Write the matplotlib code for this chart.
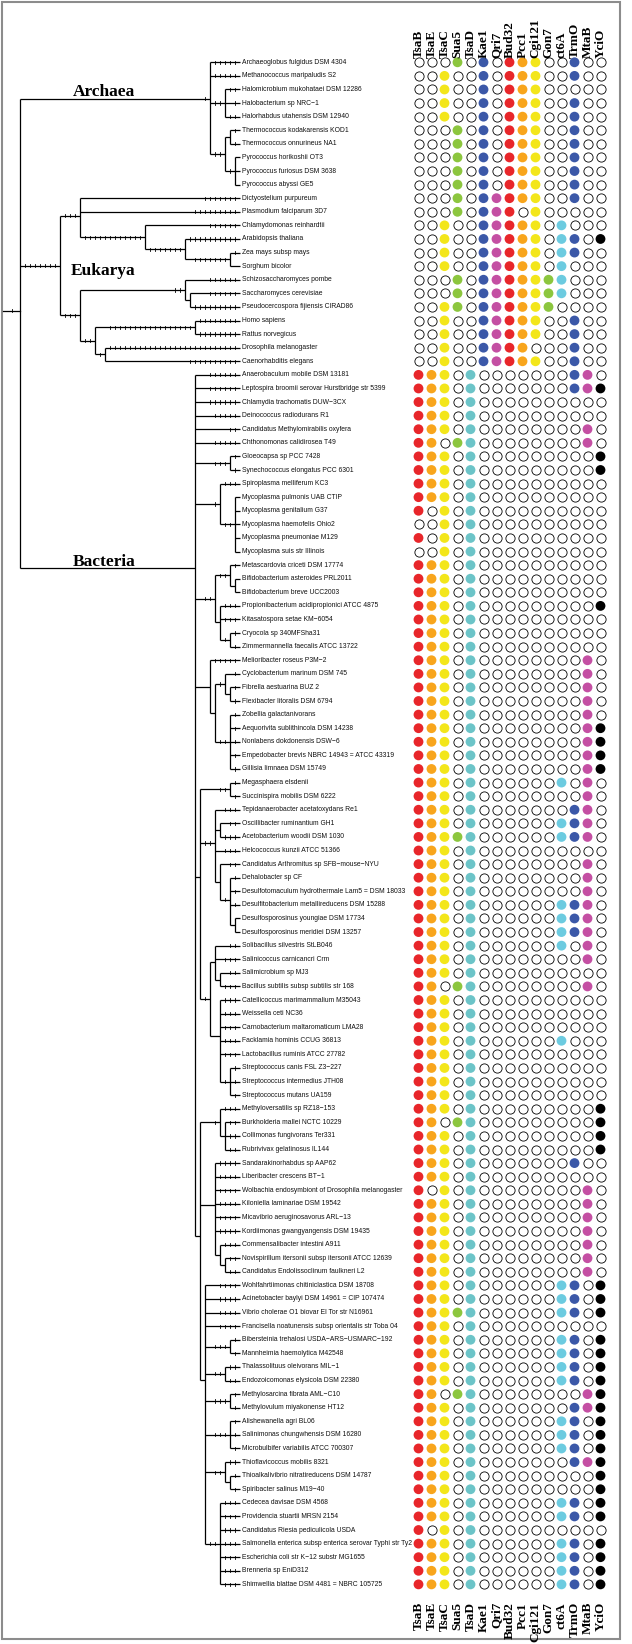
import matplotlib.pyplot as plt
from matplotlib.patches import Rectangle

genes = ['TsaB', 'TsaE', 'TsaC', 'Sua5', 'TsaD', 'Kae1', 'Qri7', 'Bud32',
         'Pcc1', 'Cgi121', 'Gon7', 'ct6A', 'TrmO', 'MtaB', 'YciO']
gene_colors = ['#e8262a', '#f8a51c', '#f3e61a', '#8cc63e', '#6cc4c8', '#3b58a8',
               '#c44fa3', '#e8262a', '#f8a51c', '#f3e61a', '#8cc63e', '#6ccbe0',
               '#3b58a8', '#c44fa3', '#000000']

species = [
    'Archaeoglobus fulgidus DSM 4304', 'Methanococcus maripaludis S2',
    'Halomicrobium mukohataei DSM 12286', 'Halobacterium sp NRC\u22121',
    'Halorhabdus utahensis DSM 12940', 'Thermococcus kodakarensis KOD1',
    'Thermococcus onnurineus NA1', 'Pyrococcus horikoshii OT3',
    'Pyrococcus furiosus DSM 3638', 'Pyrococcus abyssi GE5',
    'Dictyostelium purpureum', 'Plasmodium falciparum 3D7',
    'Chlamydomonas reinhardtii', 'Arabidopsis thaliana', 'Zea mays subsp mays',
    'Sorghum bicolor', 'Schizosaccharomyces pombe', 'Saccharomyces cerevisiae',
    'Pseudocercospora fijiensis CIRAD86', 'Homo sapiens', 'Rattus norvegicus',
    'Drosophila melanogaster', 'Caenorhabditis elegans',
    'Anaerobaculum mobile DSM 13181',
    'Leptospira broomii serovar Hurstbridge str 5399',
    'Chlamydia trachomatis DUW\u22123CX', 'Deinococcus radiodurans R1',
    'Candidatus Methylomirabilis oxyfera', 'Chthonomonas calidirosea T49',
    'Gloeocapsa sp PCC 7428', 'Synechococcus elongatus PCC 6301',
    'Spiroplasma melliferum KC3', 'Mycoplasma pulmonis UAB CTIP',
    'Mycoplasma genitalium G37', 'Mycoplasma haemofelis Ohio2',
    'Mycoplasma pneumoniae M129', 'Mycoplasma suis str Illinois',
    'Metascardovia criceti DSM 17774', 'Bifidobacterium asteroides PRL2011',
    'Bifidobacterium breve UCC2003', 'Propionibacterium acidipropionici ATCC 4875',
    'Kitasatospora setae KM\u22126054', 'Cryocola sp 340MFSha31',
    'Zimmermannella faecalis ATCC 13722', 'Melioribacter roseus P3M\u22122',
    'Cyclobacterium marinum DSM 745', 'Fibrella aestuarina BUZ 2',
    'Flexibacter litoralis DSM 6794', 'Zobellia galactanivorans',
    'Aequorivita sublithincola DSM 14238', 'Nonlabens dokdonensis DSW\u22126',
    'Empedobacter brevis NBRC 14943 = ATCC 43319', 'Gillisia limnaea DSM 15749',
    'Megasphaera elsdenii', 'Succinispira mobilis DSM 6222',
    'Tepidanaerobacter acetatoxydans Re1', 'Oscillibacter ruminantium GH1',
    'Acetobacterium woodii DSM 1030', 'Helcococcus kunzii ATCC 51366',
    'Candidatus Arthromitus sp SFB\u2212mouse\u2212NYU', 'Dehalobacter sp CF',
    'Desulfotomaculum hydrothermale Lam5 = DSM 18033',
    'Desulfitobacterium metallireducens DSM 15288',
    'Desulfosporosinus youngiae DSM 17734', 'Desulfosporosinus meridiei DSM 13257',
    'Solibacillus silvestris StLB046', 'Salinicoccus carnicancri Crm',
    'Salimicrobium sp MJ3', 'Bacillus subtilis subsp subtilis str 168',
    'Catellicoccus marimammalium M35043', 'Weissella ceti NC36',
    'Carnobacterium maltaromaticum LMA28', 'Facklamia hominis CCUG 36813',
    'Lactobacillus ruminis ATCC 27782', 'Streptococcus canis FSL Z3\u2212227',
    'Streptococcus intermedius JTH08', 'Streptococcus mutans UA159',
    'Methyloversatilis sp RZ18\u2212153', 'Burkholderia mallei NCTC 10229',
    'Collimonas fungivorans Ter331', 'Rubrivivax gelatinosus IL144',
    'Sandarakinorhabdus sp AAP62', 'Liberibacter crescens BT\u22121',
    'Wolbachia endosymbiont of Drosophila melanogaster',
    'Kiloniella laminariae DSM 19542', 'Micavibrio aeruginosavorus ARL\u221213',
    'Kordiimonas gwangyangensis DSM 19435', 'Commensalibacter intestini A911',
    'Novispirillum itersonii subsp itersonii ATCC 12639',
    'Candidatus Endolissoclinum faulkneri L2',
    'Wohlfahrtiimonas chitiniclastica DSM 18708',
    'Acinetobacter baylyi DSM 14961 = CIP 107474',
    'Vibrio cholerae O1 biovar El Tor str N16961',
    'Francisella noatunensis subsp orientalis str Toba 04',
    'Bibersteinia trehalosi USDA\u2212ARS\u2212USMARC\u2212192',
    'Mannheimia haemolytica M42548', 'Thalassolituus oleivorans MIL\u22121',
    'Endozoicomonas elysicola DSM 22380', 'Methylosarcina fibrata AML\u2212C10',
    'Methylovulum miyakonense HT12', 'Alishewanella agri BL06',
    'Salinimonas chungwhensis DSM 16280', 'Microbulbifer variabilis ATCC 700307',
    'Thioflavicoccus mobilis 8321', 'Thioalkalivibrio nitratireducens DSM 14787',
    'Spiribacter salinus M19\u221240', 'Cedecea davisae DSM 4568',
    'Providencia stuartii MRSN 2154', 'Candidatus Riesia pediculicola USDA',
    'Salmonella enterica subsp enterica serovar Typhi str Ty2',
    'Escherichia coli str K\u221212 substr MG1655', 'Brenneria sp EniD312',
    'Shimwellia blattae DSM 4481 = NBRC 105725',
]

# presence (1) / absence (0) of each gene, same order as genes
presence = [
    '000101011100100', '001001011100100', '001001011100000', '001001011100100',
    '001001011100100', '000101011100100', '000101011100100', '000101011100100',
    '000101011100100', '000101011100100',
    '000101111100100', '000101110100000', '001001111101000', '001001111101101',
    '001001111101100', '001001111101000', '000101111111000', '000101111111000',
    '001101111110000', '001001111100100', '001001111100100', '001001111000100',
    '001001111100100',
    '111010000000110', '111010000000111', '111010000000000', '111010000000000',
    '111010000000010', '110110000000010', '111010000000001', '111010000000001',
    '111010000000000', '111010000000000', '101010000000000', '001010000000000',
    '101010000000000', '001010000000000', '111010000000000', '111010000000000',
    '111010000000000', '111010000000001', '111010000000000', '111010000000000',
    '111010000000000', '111010000000010', '111010000000010', '111010000000010',
    '111010000000010', '111010000000010', '111010000000011', '111010000000011',
    '111010000000011', '111010000000011', '111010000001010', '111010000000010',
    '111010000000110', '111010000001110', '111110000001110', '111010000000000',
    '111010000000010', '111010000000010', '111010000000010', '111010000001110',
    '111010000001110', '111010000001110', '111010000001010', '111010000000010',
    '111010000000000', '110110000000010', '111010000000000', '111010000000000',
    '111010000000000', '111010000001000', '111010000000000', '111010000000000',
    '111010000000000', '111010000000000', '111010000000001', '110110000000001',
    '111010000000001', '111010000000001', '111010000000100', '111010000000000',
    '101010000000010', '111010000000010', '111010000000010', '111010000000010',
    '111010000000010', '111010000000010', '111010000000010', '111010000001101',
    '111010000001101', '111110000001101', '111010000000000', '111010000001101',
    '111010000001101', '111010000001101', '111010000001101', '110110000000011',
    '111010000000111', '111010000001101', '111010000001101', '111010000001101',
    '111010000000111', '111010000000001', '111010000000001', '111010000001101',
    '111010000001101', '101010000000000', '111010000001101', '111010000001101',
    '111010000001101', '111010000001101',
]

# taxonomy tree: tip = row index, ":n" = number of single-child ranks above a node
tree = (
    "((0:5,1:5,(2:2,3:1,4:2):2,((5:1,6:1):0,(7:0,8:0,9:0):1):2)Archaea:1,"
    "((10:7,11:9,(12:6,(13:10,(14:1,15:0):7):7):12):3,"
    "((16:6,(17:6,18:9):0):2,((19:8,20:8):17,(21:26,22:10):1):2):3)Eukarya:7,"
    "(23:6,24:6,25:6,26:5,27:2,28:5,(29:1,30:1):3,(31:3,(32:0,33:0,34:0,35:0,36:0):2):1,"
    "((37:1,(38:0,39:0):0):2,(40:3,41:3,(42:1,43:1):1):0):2,"
    "(44:5,((45:1,(46:1,47:1):0):1,(48:1,49:1,50:1,51:1,52:1):2):0):0,"
    "((53:1,54:1):2,(55:3,(56:2,57:3):0,58:3,(59:2,(60:1,61:1,62:1,(63:0,64:0):0):1):0):2,"
    "((65:2,66:3,(67:2,68:3):0):0,(69:3,70:3,71:3,72:3,73:3,(74:1,75:1,76:1):1):0):1):0,"
    "((77:3,(78:2,79:2,80:2):0):1,(81:4,82:4,83:4,84:4,85:4,86:4,(87:3,(88:2,89:2):0):0):0,"
    "(90:4,91:4,92:4,93:4,(94:1,95:1):3,(96:2,97:2):2,(98:1,99:1):3,(100:1,101:1,102:1):3,"
    "(103:2,(104:1,105:1):0):2,(106:3,107:3,108:3,109:3,110:3,111:3,112:3):2):0):0)Bacteria:0)"
)
# where each domain name sits relative to its branch (pixels, baseline)
label_shift = {'Archaea': -2.5, 'Eukarya': 9.5, 'Bacteria': -2.5}


def parse(s):
    pos = 0

    def node():
        nonlocal pos
        kids = None
        if s[pos] == '(':
            pos += 1
            kids = [node()]
            while s[pos] == ',':
                pos += 1
                kids.append(node())
            pos += 1
        start = pos
        while pos < len(s) and s[pos] not in ':,)':
            pos += 1
        label = s[start:pos]
        ns = 0
        if pos < len(s) and s[pos] == ':':
            pos += 1
            start = pos
            while pos < len(s) and s[pos] not in ',)':
                pos += 1
            ns = int(s[start:pos])
        return {'kids': kids, 'label': label, 'ns': ns}
    return node()


# layout (pixel units)
row0, row_h = 62.3, 13.59
x_tip, unit = 240.0, 5.0
col0, col_w = 418.5, 13.0


def row_y(i):
    return row0 + row_h * i


def layout(n):
    if n['kids'] is None:
        n['d'] = 0
        n['y'] = row_y(int(n['label']))
    else:
        for k in n['kids']:
            layout(k)
        n['d'] = 1 + max(k['d'] + k['ns'] for k in n['kids'])
        n['y'] = sum(k['y'] for k in n['kids']) / len(n['kids'])
    n['x'] = x_tip - unit * n['d']


root = parse(tree)
layout(root)

fig = plt.figure(figsize=(6.32, 16.44), dpi=100)
ax = fig.add_axes([0, 0, 1, 1])
ax.set_xlim(0, 632)
ax.set_ylim(1644, 0)
ax.axis('off')

lw = 0.9
clade_labels = {}


def tick(x, y):
    ax.plot([x, x], [y - 1.6, y + 1.6], color='black', lw=0.6)


def draw(n):
    if n['kids'] is None:
        return
    ys = [k['y'] for k in n['kids']]
    ax.plot([n['x'], n['x']], [min(ys), max(ys)], color='black', lw=lw,
            solid_capstyle='butt')
    for k in n['kids']:
        ax.plot([n['x'], k['x']], [k['y'], k['y']], color='black', lw=lw,
                solid_capstyle='butt')
        for j in range(1, k['ns'] + 1):
            tick(x_tip - unit * (k['d'] + j), k['y'])
        if k['kids'] is not None and k['label']:
            clade_labels[k['label']] = k['y']
        draw(k)


draw(root)
ax.plot([3, root['x']], [root['y'], root['y']], color='black', lw=lw)
tick(root['x'] - 8, root['y'])

for name, yy in clade_labels.items():
    ax.text(135, yy + label_shift[name], name, ha='right', va='baseline',
            fontsize=12.5, fontweight='bold', family='Liberation Serif')

for i, name in enumerate(species):
    ax.text(x_tip + 2, row_y(i), name, ha='left', va='center', fontsize=4.85,
            family='Liberation Sans', color='#111111')

# presence matrix
for j, g in enumerate(genes):
    cx = col0 + col_w * j
    full_y = [row_y(i) for i in range(len(species)) if presence[i][j] == '1']
    empty_y = [row_y(i) for i in range(len(species)) if presence[i][j] == '0']
    ax.scatter([cx] * len(full_y), full_y, s=50, color=gene_colors[j],
               edgecolors='none', zorder=3)
    ax.scatter([cx] * len(empty_y), empty_y, s=44, facecolors='white',
               edgecolors='black', linewidths=0.6, zorder=3)
    ax.text(cx, 58, g, rotation=90, ha='center', va='bottom', fontsize=9.5,
            fontweight='bold', family='Liberation Serif')
    ax.text(cx, 1602, g, rotation=90, ha='center', va='top', fontsize=9.5,
            fontweight='bold', family='Liberation Serif')

ax.add_patch(Rectangle((2, 2), 618, 1637, fill=False, edgecolor='#8c8c8c', lw=1.5))

fig.savefig('out.png', dpi=100)
